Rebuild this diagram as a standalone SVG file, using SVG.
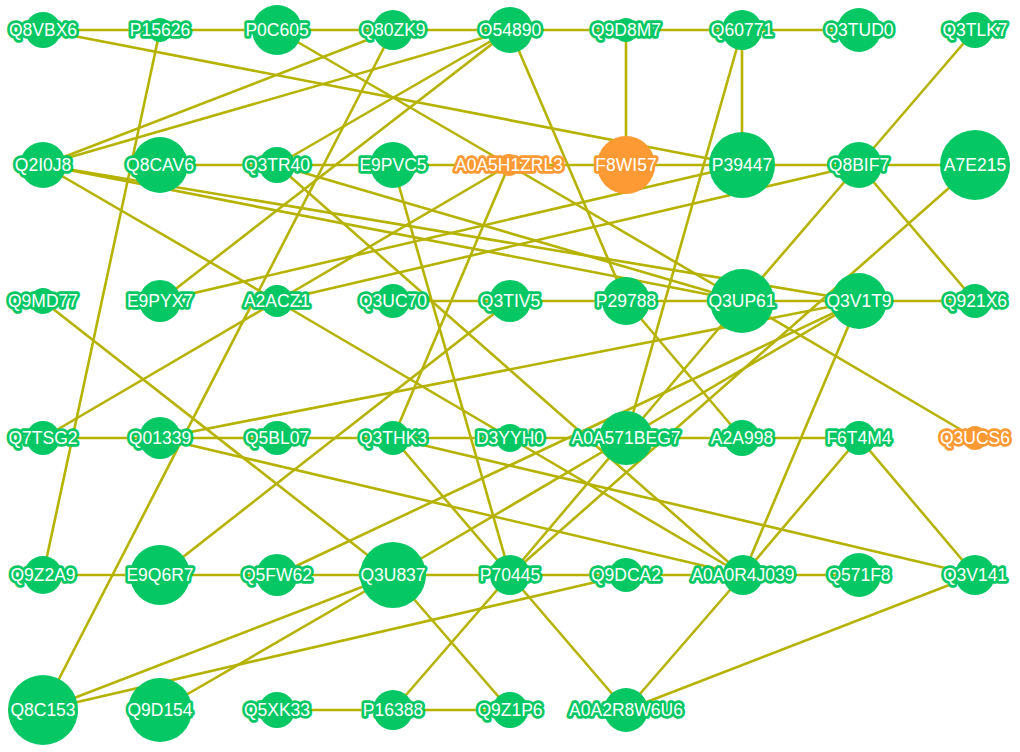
<svg xmlns="http://www.w3.org/2000/svg" width="1020" height="752" viewBox="0 0 1020 752">
<style>
.e{stroke:#b6b200;stroke-width:2.6;fill:none}
.g circle{fill:#05c865}
.o circle{fill:#fd9a34}
text{font-family:"Liberation Sans",Arial,sans-serif;font-size:17.5px;fill:#fff;text-anchor:middle;dominant-baseline:central;paint-order:stroke;stroke-width:5.5;stroke-linejoin:round}
.g text{stroke:#05c865}
.o text{stroke:#fd9a34}
</style>
<rect width="1020" height="752" fill="#fff"/>
<g id="edges">
<line class="e" x1="43" y1="30" x2="160" y2="30"/>
<line class="e" x1="160" y1="30" x2="277" y2="30"/>
<line class="e" x1="277" y1="30" x2="393" y2="30"/>
<line class="e" x1="393" y1="30" x2="510" y2="30"/>
<line class="e" x1="510" y1="30" x2="626" y2="30"/>
<line class="e" x1="626" y1="30" x2="742" y2="30"/>
<line class="e" x1="742" y1="30" x2="859" y2="30"/>
<line class="e" x1="160" y1="165" x2="277" y2="165"/>
<line class="e" x1="277" y1="165" x2="393" y2="165"/>
<line class="e" x1="393" y1="165" x2="509" y2="165"/>
<line class="e" x1="509" y1="165" x2="626" y2="165"/>
<line class="e" x1="626" y1="165" x2="742" y2="165"/>
<line class="e" x1="742" y1="165" x2="859" y2="165"/>
<line class="e" x1="859" y1="165" x2="975" y2="165"/>
<line class="e" x1="393" y1="301" x2="510" y2="301"/>
<line class="e" x1="510" y1="301" x2="626" y2="301"/>
<line class="e" x1="626" y1="301" x2="742" y2="301"/>
<line class="e" x1="742" y1="301" x2="859" y2="301"/>
<line class="e" x1="859" y1="301" x2="975" y2="301"/>
<line class="e" x1="43" y1="438" x2="160" y2="438"/>
<line class="e" x1="160" y1="438" x2="277" y2="438"/>
<line class="e" x1="277" y1="438" x2="393" y2="438"/>
<line class="e" x1="393" y1="438" x2="510" y2="438"/>
<line class="e" x1="510" y1="438" x2="626" y2="438"/>
<line class="e" x1="626" y1="438" x2="742" y2="438"/>
<line class="e" x1="742" y1="438" x2="859" y2="438"/>
<line class="e" x1="43" y1="575" x2="160" y2="575"/>
<line class="e" x1="160" y1="575" x2="277" y2="575"/>
<line class="e" x1="277" y1="575" x2="393" y2="575"/>
<line class="e" x1="393" y1="575" x2="510" y2="575"/>
<line class="e" x1="510" y1="575" x2="626" y2="575"/>
<line class="e" x1="626" y1="575" x2="743" y2="575"/>
<line class="e" x1="743" y1="575" x2="859" y2="575"/>
<line class="e" x1="277" y1="710" x2="393" y2="710"/>
<line class="e" x1="393" y1="710" x2="510" y2="710"/>
<line class="e" x1="626" y1="30" x2="626" y2="165"/>
<line class="e" x1="742" y1="30" x2="742" y2="165"/>
<line class="e" x1="43" y1="30" x2="742" y2="165"/>
<line class="e" x1="160" y1="30" x2="43" y2="575"/>
<line class="e" x1="277" y1="30" x2="509" y2="165"/>
<line class="e" x1="509" y1="165" x2="742" y2="301"/>
<line class="e" x1="742" y1="301" x2="975" y2="438"/>
<line class="e" x1="393" y1="30" x2="43" y2="165"/>
<line class="e" x1="393" y1="30" x2="43" y2="710"/>
<line class="e" x1="510" y1="30" x2="43" y2="165"/>
<line class="e" x1="510" y1="30" x2="277" y2="165"/>
<line class="e" x1="510" y1="30" x2="160" y2="301"/>
<line class="e" x1="510" y1="30" x2="626" y2="301"/>
<line class="e" x1="742" y1="30" x2="626" y2="438"/>
<line class="e" x1="975" y1="30" x2="859" y2="165"/>
<line class="e" x1="43" y1="165" x2="277" y2="301"/>
<line class="e" x1="277" y1="301" x2="510" y2="438"/>
<line class="e" x1="510" y1="438" x2="743" y2="575"/>
<line class="e" x1="43" y1="165" x2="742" y2="301"/>
<line class="e" x1="43" y1="165" x2="859" y2="301"/>
<line class="e" x1="277" y1="165" x2="742" y2="301"/>
<line class="e" x1="277" y1="165" x2="743" y2="575"/>
<line class="e" x1="393" y1="165" x2="510" y2="575"/>
<line class="e" x1="43" y1="438" x2="277" y2="301"/>
<line class="e" x1="277" y1="301" x2="509" y2="165"/>
<line class="e" x1="509" y1="165" x2="393" y2="438"/>
<line class="e" x1="859" y1="165" x2="742" y2="301"/>
<line class="e" x1="859" y1="165" x2="975" y2="301"/>
<line class="e" x1="277" y1="301" x2="859" y2="165"/>
<line class="e" x1="160" y1="301" x2="742" y2="165"/>
<line class="e" x1="975" y1="165" x2="510" y2="575"/>
<line class="e" x1="160" y1="438" x2="859" y2="301"/>
<line class="e" x1="160" y1="438" x2="743" y2="575"/>
<line class="e" x1="43" y1="301" x2="393" y2="575"/>
<line class="e" x1="160" y1="575" x2="510" y2="301"/>
<line class="e" x1="277" y1="575" x2="859" y2="301"/>
<line class="e" x1="742" y1="301" x2="626" y2="438"/>
<line class="e" x1="626" y1="438" x2="510" y2="575"/>
<line class="e" x1="160" y1="710" x2="393" y2="575"/>
<line class="e" x1="393" y1="575" x2="626" y2="438"/>
<line class="e" x1="626" y1="438" x2="859" y2="301"/>
<line class="e" x1="393" y1="438" x2="510" y2="575"/>
<line class="e" x1="393" y1="438" x2="975" y2="575"/>
<line class="e" x1="510" y1="575" x2="393" y2="710"/>
<line class="e" x1="510" y1="575" x2="626" y2="710"/>
<line class="e" x1="43" y1="710" x2="393" y2="575"/>
<line class="e" x1="43" y1="710" x2="626" y2="575"/>
<line class="e" x1="393" y1="575" x2="510" y2="710"/>
<line class="e" x1="626" y1="301" x2="742" y2="438"/>
<line class="e" x1="859" y1="301" x2="743" y2="575"/>
<line class="e" x1="859" y1="438" x2="743" y2="575"/>
<line class="e" x1="859" y1="438" x2="975" y2="575"/>
<line class="e" x1="626" y1="710" x2="975" y2="575"/>
<line class="e" x1="626" y1="710" x2="743" y2="575"/>
</g>
<g id="n-Q8VBX6" class="g"><circle cx="43" cy="30" r="18"/><text x="43" y="30">Q8VBX6</text></g>
<g id="n-P15626" class="g"><circle cx="160" cy="30" r="12"/><text x="160" y="30">P15626</text></g>
<g id="n-P0C605" class="g"><circle cx="277" cy="30" r="25"/><text x="277" y="30">P0C605</text></g>
<g id="n-Q80ZK9" class="g"><circle cx="393" cy="30" r="20"/><text x="393" y="30">Q80ZK9</text></g>
<g id="n-O54890" class="g"><circle cx="510" cy="30" r="23"/><text x="510" y="30">O54890</text></g>
<g id="n-Q9D8M7" class="g"><circle cx="626" cy="30" r="12"/><text x="626" y="30">Q9D8M7</text></g>
<g id="n-Q60771" class="g"><circle cx="742" cy="30" r="20"/><text x="742" y="30">Q60771</text></g>
<g id="n-Q3TUD0" class="g"><circle cx="859" cy="30" r="22"/><text x="859" y="30">Q3TUD0</text></g>
<g id="n-Q3TLK7" class="g"><circle cx="975" cy="30" r="18"/><text x="975" y="30">Q3TLK7</text></g>
<g id="n-Q2I0J8" class="g"><circle cx="43" cy="165" r="23"/><text x="43" y="165">Q2I0J8</text></g>
<g id="n-Q8CAV6" class="g"><circle cx="160" cy="165" r="28"/><text x="160" y="165">Q8CAV6</text></g>
<g id="n-Q3TR40" class="g"><circle cx="277" cy="165" r="18"/><text x="277" y="165">Q3TR40</text></g>
<g id="n-E9PVC5" class="g"><circle cx="393" cy="165" r="23"/><text x="393" y="165">E9PVC5</text></g>
<g id="n-A0A5H1ZRL3" class="o"><circle cx="509" cy="165" r="11"/><text x="509" y="165">A0A5H1ZRL3</text></g>
<g id="n-F8WI57" class="o"><circle cx="626" cy="165" r="29"/><text x="626" y="165">F8WI57</text></g>
<g id="n-P39447" class="g"><circle cx="742" cy="165" r="33"/><text x="742" y="165">P39447</text></g>
<g id="n-Q8BIF7" class="g"><circle cx="859" cy="165" r="23"/><text x="859" y="165">Q8BIF7</text></g>
<g id="n-A7E215" class="g"><circle cx="975" cy="165" r="35"/><text x="975" y="165">A7E215</text></g>
<g id="n-Q9MD77" class="g"><circle cx="43" cy="301" r="13"/><text x="43" y="301">Q9MD77</text></g>
<g id="n-E9PYX7" class="g"><circle cx="160" cy="301" r="21"/><text x="160" y="301">E9PYX7</text></g>
<g id="n-A2ACZ1" class="g"><circle cx="277" cy="301" r="16"/><text x="277" y="301">A2ACZ1</text></g>
<g id="n-Q3UC70" class="g"><circle cx="393" cy="301" r="17"/><text x="393" y="301">Q3UC70</text></g>
<g id="n-Q3TIV5" class="g"><circle cx="510" cy="301" r="21"/><text x="510" y="301">Q3TIV5</text></g>
<g id="n-P29788" class="g"><circle cx="626" cy="301" r="24"/><text x="626" y="301">P29788</text></g>
<g id="n-Q3UP61" class="g"><circle cx="742" cy="301" r="32"/><text x="742" y="301">Q3UP61</text></g>
<g id="n-Q3V1T9" class="g"><circle cx="859" cy="301" r="28"/><text x="859" y="301">Q3V1T9</text></g>
<g id="n-Q921X6" class="g"><circle cx="975" cy="301" r="17"/><text x="975" y="301">Q921X6</text></g>
<g id="n-Q7TSG2" class="g"><circle cx="43" cy="438" r="17"/><text x="43" y="438">Q7TSG2</text></g>
<g id="n-Q01339" class="g"><circle cx="160" cy="438" r="21"/><text x="160" y="438">Q01339</text></g>
<g id="n-Q5BL07" class="g"><circle cx="277" cy="438" r="17"/><text x="277" y="438">Q5BL07</text></g>
<g id="n-Q3THK3" class="g"><circle cx="393" cy="438" r="17"/><text x="393" y="438">Q3THK3</text></g>
<g id="n-D3YYH0" class="g"><circle cx="510" cy="438" r="14"/><text x="510" y="438">D3YYH0</text></g>
<g id="n-A0A571BEG7" class="g"><circle cx="626" cy="438" r="27"/><text x="626" y="438">A0A571BEG7</text></g>
<g id="n-A2A998" class="g"><circle cx="742" cy="438" r="18"/><text x="742" y="438">A2A998</text></g>
<g id="n-F6T4M4" class="g"><circle cx="859" cy="438" r="17"/><text x="859" y="438">F6T4M4</text></g>
<g id="n-Q3UCS6" class="o"><circle cx="975" cy="438" r="12"/><text x="975" y="438">Q3UCS6</text></g>
<g id="n-Q9Z2A9" class="g"><circle cx="43" cy="575" r="19"/><text x="43" y="575">Q9Z2A9</text></g>
<g id="n-E9Q6R7" class="g"><circle cx="160" cy="575" r="30"/><text x="160" y="575">E9Q6R7</text></g>
<g id="n-Q5FW62" class="g"><circle cx="277" cy="575" r="21"/><text x="277" y="575">Q5FW62</text></g>
<g id="n-Q3U837" class="g"><circle cx="393" cy="575" r="33"/><text x="393" y="575">Q3U837</text></g>
<g id="n-P70445" class="g"><circle cx="510" cy="575" r="20"/><text x="510" y="575">P70445</text></g>
<g id="n-Q9DCA2" class="g"><circle cx="626" cy="575" r="17"/><text x="626" y="575">Q9DCA2</text></g>
<g id="n-A0A0R4J039" class="g"><circle cx="743" cy="575" r="20"/><text x="743" y="575">A0A0R4J039</text></g>
<g id="n-Q571F8" class="g"><circle cx="859" cy="575" r="22"/><text x="859" y="575">Q571F8</text></g>
<g id="n-Q3V141" class="g"><circle cx="975" cy="575" r="20"/><text x="975" y="575">Q3V141</text></g>
<g id="n-Q8C153" class="g"><circle cx="43" cy="710" r="35"/><text x="43" y="710">Q8C153</text></g>
<g id="n-Q9D154" class="g"><circle cx="160" cy="710" r="32"/><text x="160" y="710">Q9D154</text></g>
<g id="n-Q5XK33" class="g"><circle cx="277" cy="710" r="18"/><text x="277" y="710">Q5XK33</text></g>
<g id="n-P16388" class="g"><circle cx="393" cy="710" r="20"/><text x="393" y="710">P16388</text></g>
<g id="n-Q9Z1P6" class="g"><circle cx="510" cy="710" r="18"/><text x="510" y="710">Q9Z1P6</text></g>
<g id="n-A0A2R8W6U6" class="g"><circle cx="626" cy="710" r="22"/><text x="626" y="710">A0A2R8W6U6</text></g>
</svg>
